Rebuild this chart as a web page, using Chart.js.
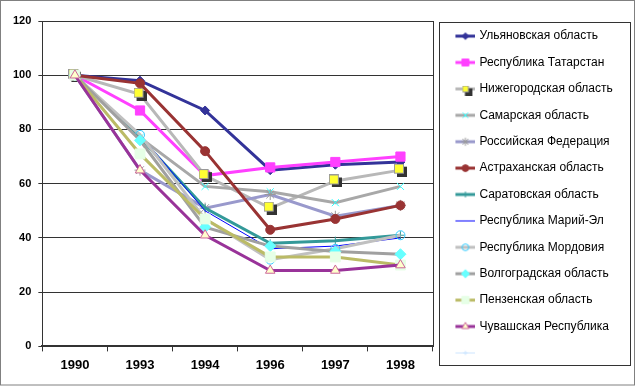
<!DOCTYPE html>
<html>
<head>
<meta charset="utf-8">
<script src="https://cdn.jsdelivr.net/npm/chart.js@4/dist/chart.umd.min.js"></script>
<style>
  html, body { margin: 0; padding: 0; background: #fff; }
  #wrap { width: 637px; height: 386px; position: relative; }
</style>
</head>
<body>
<div id="wrap"><canvas id="myChart" width="637" height="386"></canvas></div>
<script>
const years = ['1990', '1993', '1994', '1996', '1997', '1998']

// index, 1990 = 100
const ulyanovsk = [100, 98, 87, 65, 67, 68]
const tatarstan = [100, 87, 63, 66, 68, 70]
const nizhny = [100, 93, 63, 51, 61, 65]
const samara = [100, 77, 59, 57, 53, 59]
const russia = [100, 65, 51, 56, 48, 52]
const astrakhan = [100, 97, 72, 43, 47, 52]
const saratov = [100, 77, 51, 38, 39, 41]
const mariEl = [100, 78, 50, 36, 37, 40]
const mordovia = [100, 78, 47, 32, 36, 41]
const volgograd = [100, 76, 44, 37, 35, 34]
const penza = [100, 71, 47, 33, 33, 30]
const chuvash = [100, 65, 41, 28, 28, 30]
const unnamed = []

const yTicks = [0, 20, 40, 60, 80, 100, 120]

// yellow square with a dark drop shadow (Excel style marker)
const yellowSquare = (size) => {
  const c = document.createElement('canvas')
  c.width = size + 3
  c.height = size + 3
  const g = c.getContext('2d')
  g.fillStyle = '#333333'
  g.fillRect(3, 3, size, size)
  g.fillStyle = '#FFFF33'
  g.fillRect(0.5, 0.5, size - 1, size - 1)
  g.strokeStyle = '#999999'
  g.lineWidth = 1
  g.strokeRect(0.5, 0.5, size - 1, size - 1)
  return c
}

const series = [
  { label: 'Ульяновская область', data: ulyanovsk, color: '#333399', width: 3, style: 'rectRot', r: 4.5, bg: '#333399', bd: '#333399' },
  { label: 'Республика Татарстан', data: tatarstan, color: '#FF40FF', width: 3, style: 'rect', r: 6.5, bg: '#FF40FF', bd: '#FF40FF' },
  { label: 'Нижегородская область', data: nizhny, color: '#B8B8B8', width: 3, style: yellowSquare(10), legendStyle: yellowSquare(7), r: 5 },
  { label: 'Самарская область', data: samara, color: '#A8A8A8', width: 3, style: 'crossRot', r: 5, bg: '#33FFFF', bd: '#33FFFF' },
  { label: 'Российская Федерация', data: russia, color: '#9999CC', width: 3, style: 'star', r: 5.5, bg: '#999999', bd: '#999999' },
  { label: 'Астраханская область', data: astrakhan, color: '#993333', width: 3, style: 'circle', r: 4.5, bg: '#993333', bd: '#993333' },
  { label: 'Саратовская область', data: saratov, color: '#339999', width: 3, style: 'cross', r: 4, bg: '#339999', bd: '#339999' },
  { label: 'Республика Марий-Эл', data: mariEl, color: '#0000FF', width: 1, style: 'circle', r: 0, bg: '#0000FF', bd: '#0000FF' },
  { label: 'Республика Мордовия', data: mordovia, color: '#C0C0C0', width: 3, style: 'circle', r: 4.5, bg: 'rgba(0,0,0,0)', bd: '#33CCFF' },
  { label: 'Волгоградская область', data: volgograd, color: '#A0A0A0', width: 3, style: 'rectRot', r: 5.5, bg: '#66FFFF', bd: '#66FFFF' },
  { label: 'Пензенская область', data: penza, color: '#BBBB66', width: 3, style: 'rect', r: 7, bg: '#E6FFE6', bd: '#E6FFE6' },
  { label: 'Чувашская Республика', data: chuvash, color: '#993399', width: 3, style: 'triangle', r: 5.5, bg: '#FFFFCC', bd: '#CC6699' },
  { label: '', data: unnamed, color: '#CCE5FF', width: 1, style: 'cross', r: 3, bg: '#CCE5FF', bd: '#CCE5FF' }
]

const datasets = series.map((s, i) => ({
  label: s.label,
  data: s.data,
  borderColor: s.color,
  backgroundColor: s.color,
  borderWidth: s.width,
  pointStyle: s.style,
  pointRadius: s.r,
  pointBackgroundColor: s.bg,
  pointBorderColor: s.bd,
  pointBorderWidth: 1,
  tension: 0,
  order: series.length - i // later series on top, like Excel
}))

// small legend sample: line with the marker in the middle
const legendIcon = (s) => {
  const c = document.createElement('canvas')
  c.width = 30
  c.height = 14
  const g = c.getContext('2d')
  g.strokeStyle = s.color
  g.lineWidth = s.width
  g.beginPath()
  g.moveTo(10, 7)
  g.lineTo(30, 7)
  g.stroke()
  if (typeof s.style !== 'string') {
    g.drawImage(s.legendStyle, 20 - 3.5, 7 - 3.5)
  } else if (s.r > 0) {
    g.fillStyle = s.bg
    g.strokeStyle = s.bd
    g.lineWidth = 1
    Chart.helpers.drawPoint(g, { pointStyle: s.style, radius: s.r * 0.75, rotation: 0, borderWidth: 1 }, 20, 7)
  }
  return c
}

const frame = {
  id: 'frame',
  beforeDraw(chart) {
    const ctx = chart.ctx
    ctx.save()
    ctx.fillStyle = '#fff'
    ctx.fillRect(0, 0, chart.width, chart.height)
    ctx.restore()
  },
  beforeDatasetsDraw(chart) {
    const { ctx, chartArea: a } = chart
    ctx.save()
    ctx.strokeStyle = '#333'
    ctx.lineWidth = 1
    const x = Math.round(a.right) + 0.5
    ctx.beginPath()
    ctx.moveTo(x, a.top)
    ctx.lineTo(x, a.bottom)
    ctx.stroke()
    ctx.restore()
  },
  afterDraw(chart) {
    const { ctx, legend } = chart
    const hb = legend.legendHitBoxes
    ctx.save()
    ctx.strokeStyle = '#333'
    ctx.lineWidth = 1
    const top = Math.round(hb[0].top + hb[0].height / 2 - 14) + 0.5
    const last = hb[hb.length - 1]
    const bottom = Math.round(last.top + last.height / 2 + 12) + 0.5
    const left = Math.round(legend.left + 6) + 0.5
    const right = chart.width - 6.5
    ctx.strokeRect(left, top, right - left, bottom - top)
    ctx.strokeStyle = '#808080'
    ctx.strokeRect(0.5, 0.5, chart.width - 3, chart.height - 1.5)
    ctx.restore()
  }
}

const options = {
  type: 'line',
  data: { labels: years, datasets: datasets },
  options: {
    responsive: false,
    animation: false,
    events: [],
    layout: { padding: { top: 10, left: 6, right: 18, bottom: 7 } },
    plugins: {
      tooltip: { enabled: false },
      legend: {
        position: 'right',
        maxWidth: 186,
        labels: {
          usePointStyle: true,
          pointStyleWidth: 26,
          padding: 14.4,
          color: '#000',
          font: { family: '"Liberation Sans", Arial, sans-serif', size: 12 },
          generateLabels: (chart) => chart.data.datasets.map((ds, i) => ({
            text: ds.label,
            pointStyle: legendIcon(series[i]),
            datasetIndex: i,
            hidden: false,
            lineWidth: 0,
            fillStyle: 'rgba(0,0,0,0)',
            strokeStyle: 'rgba(0,0,0,0)',
            fontColor: '#000'
          }))
        }
      }
    },
    scales: {
      x: {
        offset: true,
        grid: { offset: true, drawOnChartArea: false, color: '#333', tickLength: 5 },
        border: { color: '#333', width: 2 },
        ticks: { color: '#000', padding: 6, font: { family: '"Liberation Sans", Arial, sans-serif', size: 13, weight: 'bold' } }
      },
      y: {
        min: 0,
        max: 120,
        afterBuildTicks: (axis) => { axis.ticks = yTicks.map(v => ({ value: v })) },
        afterFit: (axis) => { axis.paddingTop = 21 }, // keeps the plot top at y = 21
        grid: { color: '#333', tickLength: 4 },
        border: { color: '#333', width: 1 },
        ticks: { color: '#000', padding: 7, font: { family: '"Liberation Sans", Arial, sans-serif', size: 11, weight: 'bold' } }
      }
    }
  },
  plugins: [frame]
}

const ctx = document.getElementById('myChart').getContext('2d')
const chart = new Chart(ctx, options)
</script>
</body>
</html>
